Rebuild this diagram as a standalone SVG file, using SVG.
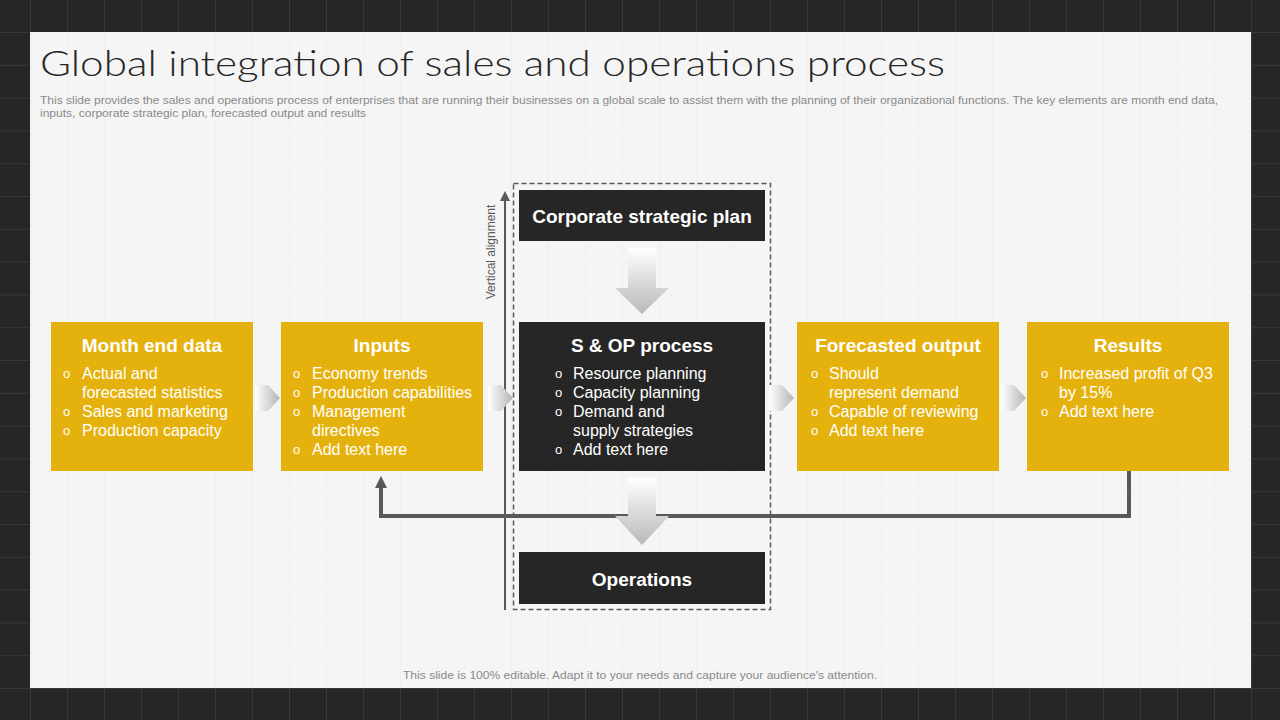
<svg xmlns="http://www.w3.org/2000/svg" width="1280" height="720" viewBox="0 0 1280 720">
<defs>
<pattern id="gDark" patternUnits="userSpaceOnUse" x="30" y="32" width="37" height="32.8">
<rect width="37" height="32.8" fill="#262626"/>
<path d="M0 0V32.8M0 0H37" stroke="#4a4a4a" stroke-width="1" fill="none"/>
</pattern>
<pattern id="gLight" patternUnits="userSpaceOnUse" x="30" y="32" width="37" height="32.8">
<rect width="37" height="32.8" fill="#f5f5f5"/>
<path d="M0 0V32.8M0 0H37" stroke="#ececec" stroke-width="1" fill="none"/>
</pattern>
<linearGradient id="gradDown" x1="0" y1="0" x2="0" y2="1">
<stop offset="0" stop-color="#ffffff"/>
<stop offset="1" stop-color="#b8b8b8"/>
</linearGradient>
<linearGradient id="gradRight" x1="0" y1="0" x2="1" y2="0">
<stop offset="0" stop-color="#ffffff"/>
<stop offset="1" stop-color="#b5b5b5"/>
</linearGradient>
<marker id="arrowHead" viewBox="0 0 10 10" refX="5" refY="5" markerWidth="3" markerHeight="3" orient="auto">
<path d="M0 0L10 5L0 10z" fill="#595959"/>
</marker>
<marker id="arrowThin" viewBox="0 0 10 10" refX="5" refY="5" markerWidth="5" markerHeight="5" orient="auto">
<path d="M0 0L10 5L0 10z" fill="#595959"/>
</marker>
<style>
.yel{fill:#e5b20d}
.dark{fill:#262626}
.hd{font-family:"Liberation Sans",Arial,sans-serif;font-weight:bold;font-size:19px;fill:#ffffff;text-anchor:middle}
.tx{font-family:"Liberation Sans",Arial,sans-serif;font-size:16px;fill:#ffffff}
.bl{font-family:"Liberation Sans",Arial,sans-serif;font-size:13px;fill:#ffffff}
.sub{font-family:"Liberation Sans",Arial,sans-serif;font-size:11px;fill:#8a8a8a}
</style>
</defs>
<rect width="1280" height="720" fill="url(#gDark)"/>
<rect x="30" y="32" width="1221" height="656" fill="url(#gLight)"/>

<text x="40" y="76" font-family="Lato,'Liberation Sans',sans-serif" font-weight="300" font-size="36" fill="#262626" textLength="905" lengthAdjust="spacingAndGlyphs">Global integration of sales and operations process</text>
<text class="sub" x="40" y="104" textLength="1178" lengthAdjust="spacingAndGlyphs">This slide provides the sales and operations process of enterprises that are running their businesses on a global scale to assist them with the planning of their organizational functions. The key elements are month end data,</text>
<text class="sub" x="40" y="117" textLength="326" lengthAdjust="spacingAndGlyphs">inputs, corporate strategic plan, forecasted output and results</text>

<g id="connectors">
<rect x="513.5" y="183.5" width="257" height="426" fill="none" stroke="#595959" stroke-width="1.5" stroke-dasharray="5,3"/>
<line x1="505" y1="610" x2="505" y2="196" stroke="#595959" stroke-width="2" marker-end="url(#arrowThin)"/>
<text x="495" y="252" transform="rotate(-90 495 252)" font-family="'Liberation Sans',Arial,sans-serif" font-size="12" fill="#595959" text-anchor="middle">Vertical alignment</text>
<polyline points="1129,471 1129,516 381,516 381,482" fill="none" stroke="#595959" stroke-width="4" marker-end="url(#arrowHead)"/>
<polygon points="628,248 656,248 656,288 669,288 642,314 615,288 628,288" fill="url(#gradDown)"/>
<polygon points="628,478 656,478 656,516 669,516 642,545 615,516 628,516" fill="url(#gradDown)"/>
<polygon points="255,385 268,385 280,398 268,411 255,411" fill="url(#gradRight)"/>
<polygon points="488,385 501,385 513,398 501,411 488,411" fill="url(#gradRight)"/>
<polygon points="769,385 782,385 794,398 782,411 769,411" fill="url(#gradRight)"/>
<polygon points="1001,385 1014,385 1026,398 1014,411 1001,411" fill="url(#gradRight)"/>
</g>

<g id="node-corporate">
<rect class="dark" x="519" y="190" width="246" height="51"/>
<text class="hd" x="642" y="223">Corporate strategic plan</text>
</g>

<g id="node-month">
<rect class="yel" x="51" y="322" width="202" height="149"/>
<text class="hd" x="152" y="352">Month end data</text>
<text class="bl" x="63" y="378">o</text><text class="tx" x="82" y="379">Actual and</text>
<text class="tx" x="82" y="398">forecasted statistics</text>
<text class="bl" x="63" y="416">o</text><text class="tx" x="82" y="417">Sales and marketing</text>
<text class="bl" x="63" y="435">o</text><text class="tx" x="82" y="436">Production capacity</text>
</g>

<g id="node-inputs">
<rect class="yel" x="281" y="322" width="202" height="149"/>
<text class="hd" x="382" y="352">Inputs</text>
<text class="bl" x="293" y="378">o</text><text class="tx" x="312" y="379">Economy trends</text>
<text class="bl" x="293" y="397">o</text><text class="tx" x="312" y="398">Production capabilities</text>
<text class="bl" x="293" y="416">o</text><text class="tx" x="312" y="417">Management</text>
<text class="tx" x="312" y="436">directives</text>
<text class="bl" x="293" y="454">o</text><text class="tx" x="312" y="455">Add text here</text>
</g>

<g id="node-sop">
<rect class="dark" x="519" y="322" width="246" height="149"/>
<text class="hd" x="642" y="352">S &amp; OP process</text>
<text class="bl" x="555" y="378">o</text><text class="tx" x="573" y="379">Resource planning</text>
<text class="bl" x="555" y="397">o</text><text class="tx" x="573" y="398">Capacity planning</text>
<text class="bl" x="555" y="416">o</text><text class="tx" x="573" y="417">Demand and</text>
<text class="tx" x="573" y="436">supply strategies</text>
<text class="bl" x="555" y="454">o</text><text class="tx" x="573" y="455">Add text here</text>
</g>

<g id="node-forecast">
<rect class="yel" x="797" y="322" width="202" height="149"/>
<text class="hd" x="898" y="352">Forecasted output</text>
<text class="bl" x="811" y="378">o</text><text class="tx" x="829" y="379">Should</text>
<text class="tx" x="829" y="398">represent demand</text>
<text class="bl" x="811" y="416">o</text><text class="tx" x="829" y="417">Capable of reviewing</text>
<text class="bl" x="811" y="435">o</text><text class="tx" x="829" y="436">Add text here</text>
</g>

<g id="node-results">
<rect class="yel" x="1027" y="322" width="202" height="149"/>
<text class="hd" x="1128" y="352">Results</text>
<text class="bl" x="1041" y="378">o</text><text class="tx" x="1059" y="379">Increased profit of Q3</text>
<text class="tx" x="1059" y="398">by 15%</text>
<text class="bl" x="1041" y="416">o</text><text class="tx" x="1059" y="417">Add text here</text>
</g>

<g id="node-operations">
<rect class="dark" x="519" y="552" width="246" height="52"/>
<text class="hd" x="642" y="586">Operations</text>
</g>

<text class="sub" x="640" y="679" text-anchor="middle" textLength="474" lengthAdjust="spacingAndGlyphs">This slide is 100% editable. Adapt it to your needs and capture your audience's attention.</text>
</svg>
